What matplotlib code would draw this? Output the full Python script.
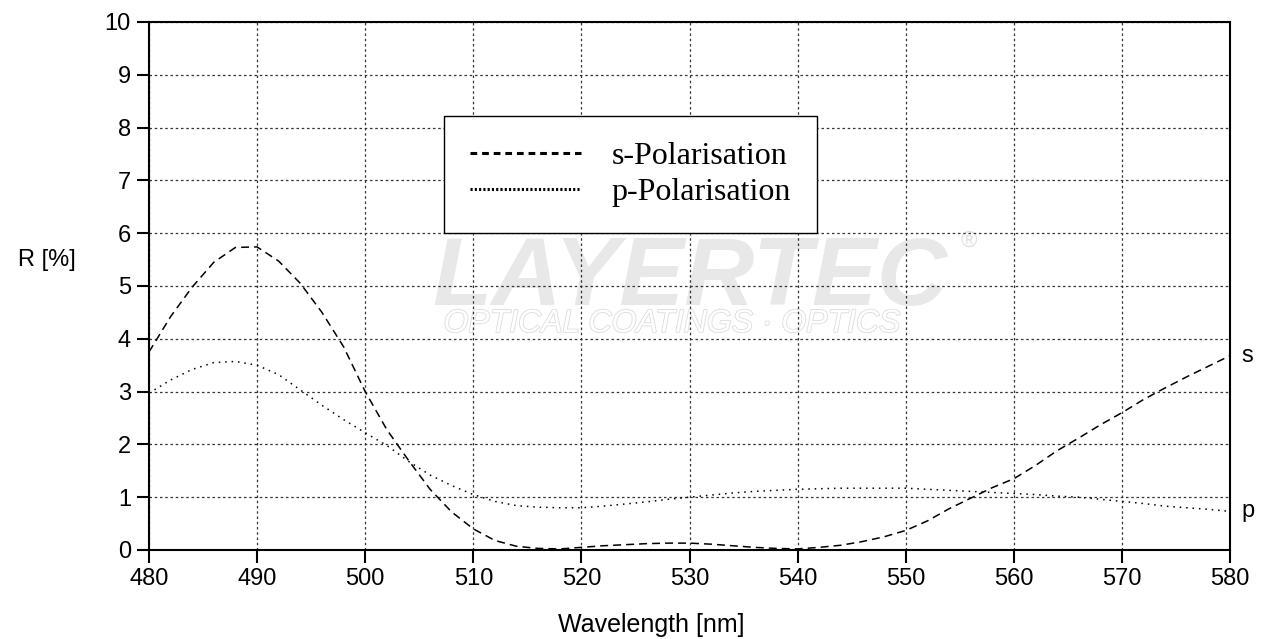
import matplotlib
matplotlib.use("Agg")
import matplotlib.pyplot as plt
import matplotlib.patheffects as pe

# wavelength grid (nm) and reflectance (%)
wl = [480, 482, 484, 486, 488, 490, 492, 494, 496, 498, 500, 502, 504, 506, 508,
      510, 512, 514, 516, 518, 520, 522, 524, 526, 528, 530, 532, 534, 536, 538,
      540, 542, 544, 546, 548, 550, 552, 554, 556, 558, 560, 562, 564, 566, 568,
      570, 572, 574, 576, 578, 580]

s_pol = [3.75, 4.42, 4.98, 5.45, 5.73, 5.74, 5.47, 5.05, 4.5, 3.85, 3.0, 2.28, 1.7, 1.15, 0.72,
         0.4, 0.18, 0.07, 0.03, 0.02, 0.05, 0.08, 0.1, 0.12, 0.13, 0.13, 0.11, 0.08, 0.05, 0.03,
         0.02, 0.05, 0.09, 0.16, 0.25, 0.37, 0.55, 0.78, 0.98, 1.18, 1.35, 1.6, 1.88, 2.12, 2.37,
         2.6, 2.85, 3.07, 3.28, 3.48, 3.68]

p_pol = [2.97, 3.22, 3.42, 3.55, 3.57, 3.5, 3.32, 3.03, 2.74, 2.47, 2.22, 1.98, 1.68, 1.42, 1.22,
         1.05, 0.92, 0.84, 0.81, 0.8, 0.8, 0.83, 0.87, 0.91, 0.96, 1.0, 1.04, 1.08, 1.11, 1.13,
         1.15, 1.16, 1.17, 1.17, 1.17, 1.17, 1.15, 1.13, 1.11, 1.09, 1.07, 1.05, 1.02, 1.0, 0.96,
         0.92, 0.88, 0.83, 0.8, 0.77, 0.73]

xticks = list(range(480, 581, 10))
yticks = list(range(0, 11))

sans = "Liberation Sans"
serif = "Liberation Serif"

fig = plt.figure(figsize=(12.69, 6.39), dpi=100)
ax = fig.add_axes([0.1174, 0.1393, 0.8519, 0.8263])

# watermark
ax.text(530, 4.64, "LAYERTEC", fontsize=70, fontweight="bold", fontstyle="italic",
        family=sans, color="#e8e8e8", ha="center", va="baseline", zorder=0)
ax.text(555.8, 5.85, "®", fontsize=16, family=sans, color="#e0e0e0",
        ha="center", va="center", zorder=0)
ax.text(528.4, 4.13, "OPTICAL COATINGS \u00b7 OPTICS", fontsize=23, fontstyle="italic",
        family=sans, color="white", ha="center", va="baseline", zorder=0,
        path_effects=[pe.Stroke(linewidth=1.2, foreground="#dcdcdc"), pe.Normal()])

ax.plot(wl, s_pol, color="black", lw=1.1, dashes=(5.2, 3.3), label="s-Polarisation", zorder=3)
ax.plot(wl, p_pol, color="black", lw=1.1, dashes=(1, 3.2), label="p-Polarisation", zorder=3)

ax.set_xlim(480, 580)
ax.set_ylim(0, 10)
ax.set_xticks(xticks)
ax.set_yticks(yticks)
ax.grid(True, color="#333333", lw=0.9, linestyle=(0, (2, 2.2)), zorder=1)
ax.set_axisbelow(True)

for sp in ax.spines.values():
    sp.set_linewidth(1.5)
ax.tick_params(direction="out", length=9, width=1.5, labelsize=17, pad=4)
for lab in ax.get_xticklabels() + ax.get_yticklabels():
    lab.set_family(sans)

ax.set_xlabel("Wavelength [nm]", fontsize=18, family=sans, va="center")
ax.xaxis.set_label_coords(0.465, -0.142)
ax.set_ylabel("R [%]", fontsize=17, family=sans, rotation=0, ha="center", va="center")
ax.yaxis.set_label_coords(-0.094, 0.549)

ax.annotate("s", (wl[-1], s_pol[-1]), xytext=(8, 0), textcoords="offset points",
            fontsize=17, family=sans, va="center", annotation_clip=False)
ax.annotate("p", (wl[-1], p_pol[-1]), xytext=(8, 0), textcoords="offset points",
            fontsize=17, family=sans, va="center", annotation_clip=False)

leg = ax.legend(loc="upper left", bbox_to_anchor=(0.273, 0.822), borderaxespad=0,
                prop={"family": serif, "size": 23}, handlelength=3.5, handletextpad=0.95,
                borderpad=0.8, labelspacing=0.22, fancybox=False, framealpha=1)
leg.get_frame().set_edgecolor("black")
leg.get_frame().set_linewidth(1.0)
lines = leg.get_lines()
lines[0].set_linewidth(2.2)
lines[0].set_dashes((2.2, 1.6))
lines[1].set_linewidth(2.2)
lines[1].set_dashes((0.7, 0.7))
leg.set_zorder(5)

fig.savefig("out.png", dpi=100)
